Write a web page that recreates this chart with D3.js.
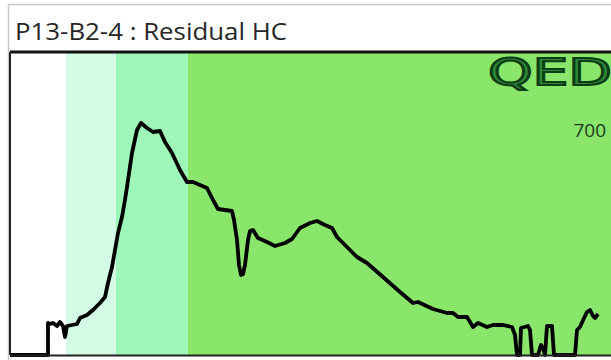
<!DOCTYPE html>
<html lang="en">
    <head>
        <meta charset="utf-8">
        <title>Residual HC</title>
        <script src="https://d3js.org/d3.v7.min.js"></script>
        <style type="text/css">
            body { margin: 0; background: #fff; }
            svg { display: block; }
        </style>
    </head>
    <body>
        <div class="chart"></div>
        <script type="text/javascript">
            // chart text
            var title = "P13-B2-4 : Residual HC";
            var logoText = "QED";
            var readout = "700";

            // background zones (x units)
            var zoneStart = [0, 56, 106, 178];
            var zoneEnd   = [56, 106, 178, 601];
            var zoneColor = ["#ffffff", "#d3fbe5", "#9ef6b9", "#8ae56b"];

            // signal trace
            var xVals = [0, 38, 38, 40, 43, 47, 50, 53, 55, 57, 62, 67, 70, 77, 83, 90, 95, 98, 102, 105, 108, 112, 115,
                117, 122, 127, 131, 137, 143, 150, 155, 162, 170, 177, 183, 190, 197, 203, 208, 215, 222, 224, 227,
                229, 231, 233, 235, 238, 240, 243, 248, 257, 265, 275, 282, 290, 300, 307, 315, 322, 327, 337, 347,
                357, 373, 390, 403, 408, 423, 437, 443, 448, 457, 463, 468, 477, 483, 493, 502, 505, 507, 510, 511,
                518, 520, 522, 528, 531, 533, 535, 537, 542, 544, 565, 567, 570, 574, 577, 580, 583, 585, 588];
            var yVals = [0, 0, 32, 31, 32, 29, 33, 29, 18, 29, 30, 31, 37, 40, 45, 52, 58, 72, 88, 105, 122, 138, 155,
                168, 202, 225, 232, 227, 223, 224, 213, 202, 185, 173, 173, 170, 167, 155, 146, 145, 144, 135, 115,
                90, 80, 81, 90, 115, 124, 125, 117, 113, 109, 112, 116, 127, 132, 134, 130, 127, 118, 108, 98,
                92, 78, 63, 52, 53, 46, 42, 42, 38, 38, 28, 32, 28, 30, 30, 28, 20, 0, 0, 27,
                29, 25, 0, 0, 10, 7, 0, 29, 29, 0, 0, 25, 28, 37, 43, 45, 39, 37, 41];

            var W = 611, H = 360;
            var plot = {left: 10, right: 611, top: 52, bottom: 355};

            var svg = d3.select(".chart")
                .append("svg")
                .attr("width", W)
                .attr("height", H);

            // outer panel
            svg.append("rect")
                .attr("x", 8.5).attr("y", 4.5)
                .attr("width", W).attr("height", H)
                .attr("fill", "#fff")
                .attr("stroke", "#c8c8c8")
                .attr("stroke-width", 1.5);

            svg.append("text")
                .attr("x", 15).attr("y", 40)
                .attr("textLength", 272)
                .attr("lengthAdjust", "spacingAndGlyphs")
                .style("font-family", "'Open Sans', sans-serif")
                .style("font-size", "23px")
                .attr("fill", "#262626")
                .text(title);

            var x = d3.scaleLinear().domain([0, 601]).range([plot.left, plot.right]);
            var y = d3.scaleLinear().domain([0, 303]).range([plot.bottom, plot.top]);

            // zones
            svg.selectAll("rect.zone")
                .data(zoneStart)
                .enter()
                .append("rect")
                .attr("class", "zone")
                .attr("x", function(d) { return x(d); })
                .attr("y", plot.top)
                .attr("width", function(d, i) { return x(zoneEnd[i]) - x(d); })
                .attr("height", plot.bottom - plot.top)
                .attr("fill", function(d, i) { return zoneColor[i]; });

            // logo
            svg.append("text")
                .attr("x", 488).attr("y", 85)
                .attr("textLength", 124)
                .attr("lengthAdjust", "spacingAndGlyphs")
                .style("font-family", "'DejaVu Sans', sans-serif")
                .style("font-size", "37px")
                .attr("fill", "#2c8a3a")
                .attr("stroke", "#0b3d14")
                .attr("stroke-width", 2)
                .text(logoText);

            svg.append("text")
                .attr("x", 606).attr("y", 137)
                .attr("text-anchor", "end")
                .style("font-family", "'Open Sans', sans-serif")
                .style("font-size", "19px")
                .attr("fill", "#1d3a1d")
                .text(readout);

            var pts = xVals.map(function(d, i) { return [d, yVals[i]]; });
            var line = d3.line()
                .x(function(d) { return x(d[0]); })
                .y(function(d) { return y(d[1]); });

            svg.append("path")
                .datum(pts)
                .attr("d", line)
                .attr("fill", "none")
                .attr("stroke", "#000")
                .attr("stroke-width", 3.8)
                .attr("stroke-linejoin", "round");

            // frame
            svg.append("line")
                .attr("x1", plot.left).attr("x2", W)
                .attr("y1", plot.top).attr("y2", plot.top)
                .attr("stroke", "#111").attr("stroke-width", 3);
            svg.append("line")
                .attr("x1", plot.left).attr("x2", plot.left)
                .attr("y1", plot.top).attr("y2", plot.bottom)
                .attr("stroke", "#222").attr("stroke-width", 2);
            svg.append("line")
                .attr("x1", plot.left).attr("x2", W)
                .attr("y1", plot.bottom + 0.5).attr("y2", plot.bottom + 0.5)
                .attr("stroke", "#222").attr("stroke-width", 2);
        </script>
    </body>
</html>
